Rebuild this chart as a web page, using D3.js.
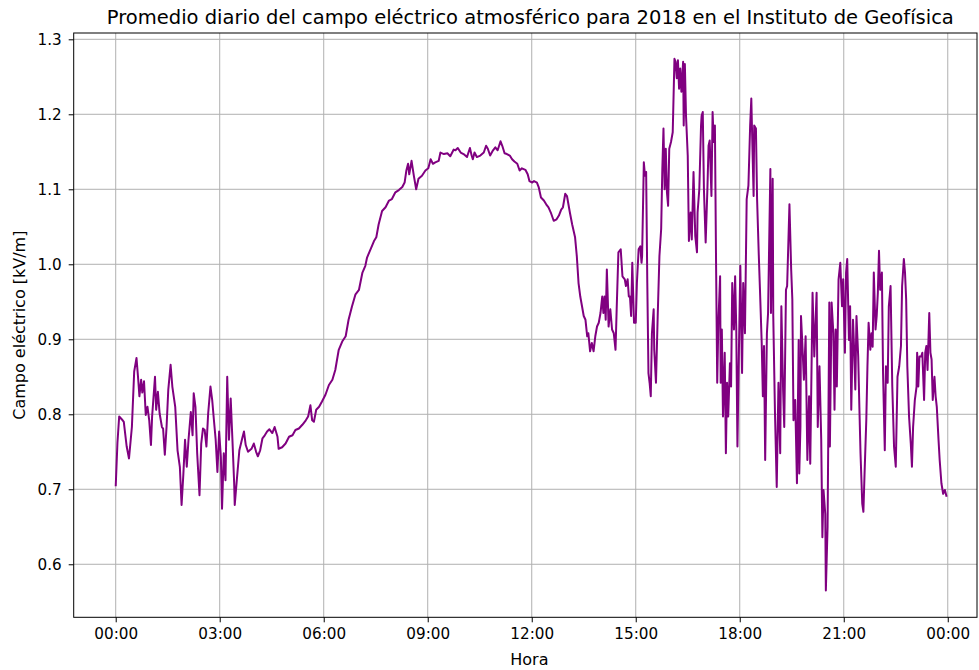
<!DOCTYPE html>
<html>
<head>
<meta charset="utf-8">
<script src="https://cdn.jsdelivr.net/npm/d3@7"></script>
<style>
  html, body { margin: 0; padding: 0; background: #fff; }
  svg { display: block; font-family: "DejaVu Sans", sans-serif; }
</style>
</head>
<body>
<svg id="chart" width="979" height="670"></svg>
<script>
// ---- Data (minutes since 00:00, daily mean atmospheric electric field in kV/m) ----
const minutes = [0,3,6,12,14,19,23,28,32,36,39,41,44,46,49,52,55,58,61,63,68,70,73,76,80,82,85,88,91,95,98,103,107,111,114,117,120,123,126,130,133,135,138,141,145,148,151,154,157,160,164,167,170,173,176,179,182,184,187,190,193,196,199,202,205,206,210,214,219,222,225,229,235,239,243,246,250,254,258,262,266,271,275,280,282,288,294,300,306,311,317,323,329,333,337,340,343,347,352,357,363,369,375,380,386,392,398,403,409,415,421,427,432,435,441,447,451,455,461,467,473,478,484,490,496,500,503,506,508,512,516,520,524,530,536,541,545,549,553,559,562,568,574,579,585,588,592,597,602,608,613,616,618,621,625,631,637,641,644,648,653,657,661,666,669,673,677,682,686,690,695,699,703,709,713,716,721,724,729,732,736,741,745,749,753,758,763,767,771,774,778,781,786,790,795,798,801,804,807,810,813,816,818,821,824,827,830,833,836,839,842,844,846,848,850,852,853,856,859,862,865,867,870,874,877,881,883,886,888,890,892,894,897,900,902,905,908,910,911,914,916,918,920,922,924,926,928,931,932,935,938,941,944,946,948,950,952,954,956,958,961,964,967,969,971,973,975,977,979,982,983,985,987,990,992,995,997,1000,1003,1006,1007,1010,1013,1014,1016,1018,1021,1024,1026,1028,1031,1033,1035,1037,1039,1041,1043,1046,1047,1049,1051,1054,1056,1058,1060,1063,1065,1067,1070,1072,1074,1076,1078,1081,1084,1086,1089,1092,1095,1098,1100,1102,1104,1105,1108,1110,1113,1115,1118,1120,1122,1124,1127,1129,1133,1134,1137,1138,1141,1144,1147,1150,1152,1155,1157,1160,1162,1166,1169,1171,1173,1176,1179,1182,1183,1185,1186,1188,1191,1194,1197,1200,1202,1206,1209,1213,1215,1218,1221,1223,1225,1228,1229,1232,1235,1236,1239,1242,1244,1246,1248,1251,1254,1257,1259,1262,1264,1266,1269,1271,1273,1276,1278,1280,1282,1285,1287,1289,1292,1294,1296,1299,1301,1303,1306,1308,1310,1312,1315,1317,1319,1321,1323,1326,1328,1331,1333,1336,1338,1341,1344,1347,1350,1353,1356,1359,1361,1364,1366,1368,1370,1373,1376,1378,1380,1383,1386,1387,1389,1391,1394,1396,1399,1401,1403,1405,1408,1410,1412,1414,1417,1419,1421,1424,1426,1429,1432,1435,1438];

const campo = [0.704,0.762,0.797,0.792,0.790,0.757,0.741,0.783,0.857,0.875,0.846,0.824,0.846,0.829,0.844,0.799,0.810,0.792,0.759,0.797,0.850,0.806,0.830,0.801,0.783,0.781,0.746,0.783,0.833,0.866,0.837,0.810,0.752,0.730,0.679,0.719,0.766,0.730,0.766,0.803,0.772,0.828,0.810,0.748,0.692,0.761,0.781,0.779,0.757,0.801,0.837,0.819,0.792,0.766,0.723,0.777,0.743,0.674,0.748,0.712,0.850,0.766,0.821,0.766,0.708,0.679,0.716,0.752,0.768,0.777,0.759,0.750,0.754,0.761,0.750,0.744,0.752,0.768,0.772,0.777,0.780,0.775,0.783,0.770,0.754,0.756,0.761,0.770,0.772,0.779,0.781,0.786,0.792,0.797,0.812,0.792,0.790,0.806,0.810,0.817,0.826,0.839,0.846,0.859,0.886,0.897,0.904,0.926,0.944,0.960,0.966,0.989,0.998,1.009,1.020,1.031,1.036,1.053,1.071,1.076,1.085,1.087,1.096,1.099,1.103,1.109,1.125,1.134,1.120,1.138,1.118,1.100,1.114,1.118,1.125,1.128,1.140,1.134,1.136,1.138,1.149,1.147,1.148,1.144,1.153,1.152,1.155,1.149,1.147,1.143,1.155,1.145,1.140,1.149,1.143,1.145,1.149,1.158,1.154,1.145,1.152,1.156,1.152,1.164,1.158,1.148,1.147,1.145,1.140,1.137,1.134,1.125,1.128,1.126,1.120,1.111,1.109,1.111,1.109,1.103,1.089,1.085,1.080,1.076,1.069,1.058,1.060,1.065,1.073,1.076,1.094,1.091,1.069,1.053,1.036,1.011,0.975,0.957,0.944,0.931,0.926,0.904,0.908,0.884,0.895,0.884,0.904,0.917,0.922,0.935,0.957,0.935,0.957,0.926,0.993,0.944,0.917,0.940,0.913,0.908,0.886,0.940,1.016,1.020,0.984,0.980,0.971,0.980,0.957,0.957,0.931,1.002,0.922,0.922,0.975,1.020,1.024,1.002,1.011,1.136,1.118,1.123,0.975,0.855,0.842,0.824,0.908,0.940,0.886,0.842,0.931,1.011,1.047,1.127,1.181,1.100,1.154,1.096,1.078,1.154,1.163,1.176,1.274,1.270,1.248,1.272,1.234,1.261,1.230,1.270,1.185,1.267,1.198,1.145,1.031,1.069,1.033,1.123,1.038,1.016,1.069,1.100,1.185,1.198,1.203,1.100,1.029,1.100,1.158,1.165,1.091,1.203,1.163,1.185,1.002,0.842,0.922,0.984,0.842,0.913,0.797,0.882,0.748,0.842,0.797,0.868,0.837,0.975,0.913,0.984,0.913,0.757,0.859,0.998,0.855,0.975,0.908,1.087,1.105,1.185,1.221,1.154,1.091,1.185,1.181,1.087,1.011,0.966,0.895,0.824,0.891,0.739,0.908,0.935,1.127,0.935,1.114,0.931,0.801,0.703,0.842,0.748,0.944,0.833,0.783,0.966,0.971,1.080,0.993,0.953,0.792,0.819,0.708,0.899,0.721,0.783,0.931,0.899,0.846,0.904,0.739,0.824,0.734,0.962,0.877,0.962,0.783,0.864,0.766,0.636,0.699,0.667,0.565,0.650,0.949,0.757,0.949,0.908,0.806,0.913,0.837,0.980,1.002,0.944,0.980,0.882,0.989,1.007,0.899,0.944,0.806,0.926,0.886,0.833,0.931,0.877,0.810,0.748,0.681,0.670,0.721,0.792,0.864,0.922,0.886,0.908,0.890,0.989,0.913,0.931,0.962,1.018,0.966,0.989,0.855,0.752,0.864,0.842,0.944,0.971,0.837,0.757,0.730,0.850,0.864,0.891,0.971,1.007,0.989,0.953,0.864,0.797,0.761,0.730,0.783,0.819,0.837,0.882,0.837,0.877,0.877,0.882,0.819,0.882,0.891,0.859,0.935,0.882,0.873,0.819,0.850,0.824,0.810,0.766,0.739,0.708,0.694,0.699,0.690];

const xTickMinutes = [0, 180, 360, 540, 720, 900, 1080, 1260, 1440];
const xTickLabels = ["00:00", "03:00", "06:00", "09:00", "12:00", "15:00", "18:00", "21:00", "00:00"];
const yTicks = [0.6, 0.7, 0.8, 0.9, 1.0, 1.1, 1.2, 1.3];

const titleText = "Promedio diario del campo eléctrico atmosférico para 2018 en el Instituto de Geofísica";
const xLabelText = "Hora";
const yLabelText = "Campo eléctrico [kV/m]";

// ---- Layout ----
const W = 979, H = 670;
const plot = { left: 73.7, right: 977, top: 33, bottom: 617.3 };

const svg = d3.select("#chart");

const x = d3.scaleLinear().domain([-72.7, 1490.6]).range([plot.left, plot.right]);
const y = d3.scaleLinear().domain([0.5293, 1.3084]).range([plot.bottom, plot.top]);

const gridColor = "#b0b0b0";

// Grid
const grid = svg.append("g");
grid.selectAll("line.vx").data(xTickMinutes).join("line")
  .attr("x1", d => x(d)).attr("x2", d => x(d))
  .attr("y1", plot.top).attr("y2", plot.bottom)
  .attr("stroke", gridColor).attr("stroke-width", 1);
grid.selectAll("line.hy").data(yTicks).join("line")
  .attr("x1", plot.left).attr("x2", plot.right)
  .attr("y1", d => y(d)).attr("y2", d => y(d))
  .attr("stroke", gridColor).attr("stroke-width", 1);

// Line
const data = minutes.map((m, i) => ({ m, v: campo[i] }));
svg.append("defs").append("clipPath").attr("id", "clip")
  .append("rect").attr("x", plot.left).attr("y", plot.top)
  .attr("width", plot.right - plot.left).attr("height", plot.bottom - plot.top);

svg.append("path")
  .datum(data)
  .attr("clip-path", "url(#clip)")
  .attr("fill", "none")
  .attr("stroke", "#800080")
  .attr("stroke-width", 2)
  .attr("stroke-linejoin", "round")
  .attr("d", d3.line().x(d => x(d.m)).y(d => y(d.v)));

// Axes
const xAxis = d3.axisBottom(x)
  .tickValues(xTickMinutes)
  .tickFormat((d, i) => xTickLabels[i])
  .tickSize(5).tickPadding(6);
const yAxis = d3.axisLeft(y)
  .tickValues(yTicks)
  .tickFormat(d3.format(".1f"))
  .tickSize(5).tickPadding(7);

const gx = svg.append("g").attr("transform", `translate(0,${plot.bottom})`).call(xAxis);
const gy = svg.append("g").attr("transform", `translate(${plot.left},0)`).call(yAxis);
[gx, gy].forEach(g => {
  g.select(".domain").remove();
  g.selectAll(".tick line").attr("stroke", "#000").attr("stroke-width", 1);
  g.selectAll(".tick text").attr("fill", "#000").style("font-size", "15.2px")
    .style("font-family", "'DejaVu Sans', sans-serif");
});

// Frame (spines)
svg.append("rect")
  .attr("x", plot.left).attr("y", plot.top)
  .attr("width", plot.right - plot.left).attr("height", plot.bottom - plot.top)
  .attr("fill", "none").attr("stroke", "#000").attr("stroke-width", 1);

// Title and labels
svg.append("text")
  .attr("x", (plot.left + plot.right) / 2 + 5).attr("y", 24)
  .attr("text-anchor", "middle")
  .style("font-size", "19.5px").attr("fill", "#000")
  .text(titleText);

svg.append("text")
  .attr("x", (plot.left + plot.right) / 2 + 4).attr("y", 665)
  .attr("text-anchor", "middle")
  .style("font-size", "16px").attr("fill", "#000")
  .text(xLabelText);

svg.append("text")
  .attr("transform", `translate(25,${(plot.top + plot.bottom) / 2}) rotate(-90)`)
  .attr("text-anchor", "middle")
  .style("font-size", "16px").attr("fill", "#000")
  .text(yLabelText);
</script>
</body>
</html>
